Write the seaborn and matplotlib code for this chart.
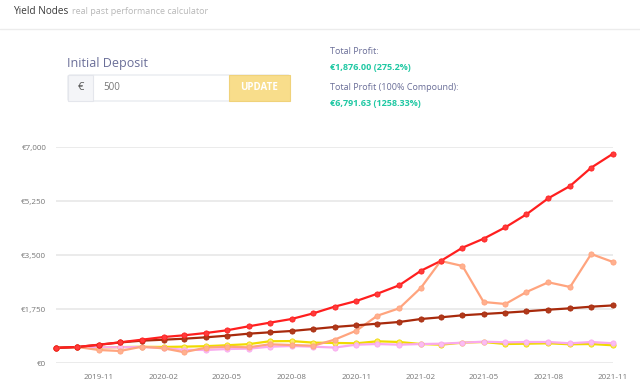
import matplotlib
matplotlib.use("Agg")
import matplotlib.pyplot as plt
import matplotlib.dates as mdates
from matplotlib.patches import Rectangle, FancyBboxPatch
from matplotlib.lines import Line2D
import pandas as pd
import seaborn as sns

# monthly snapshots
months = ['2019-09', '2019-10', '2019-11', '2019-12', '2020-01', '2020-02', '2020-03',
          '2020-04', '2020-05', '2020-06', '2020-07', '2020-08', '2020-09', '2020-10',
          '2020-11', '2020-12', '2021-01', '2021-02', '2021-03', '2021-04', '2021-05',
          '2021-06', '2021-07', '2021-08', '2021-09', '2021-10', '2021-11']

compound = [500, 528, 603, 680, 765, 852, 907, 982, 1069, 1199, 1316, 1436, 1620, 1835,
            2019, 2256, 2528, 3001, 3316, 3747, 4038, 4408, 4829, 5348, 5746, 6340, 6792]
simple = [500, 528, 600, 675, 733, 765, 797, 842, 895, 960, 1004, 1047, 1112, 1177,
          1231, 1283, 1339, 1436, 1490, 1556, 1598, 1640, 1685, 1737, 1782, 1835, 1876]
salmon = [500, 530, 431, 399, 538, 486, 360, 506, 538, 518, 616, 593, 570, 765,
          1057, 1543, 1782, 2450, 3316, 3154, 1987, 1922, 2311, 2625, 2473, 3542, 3283]
yellow = [500, 528, 510, 525, 535, 530, 540, 555, 585, 620, 715, 720, 670, 660,
          648, 713, 690, 625, 603, 668, 690, 625, 635, 648, 616, 625, 583]
pink = [500, 528, 518, 520, 530, 490, 440, 431, 463, 474, 538, 560, 538, 510,
        603, 625, 603, 625, 635, 668, 701, 680, 690, 690, 648, 690, 648]

# drawing order: later entries on top
series = {'yellow': yellow, 'pink': pink, 'salmon': salmon, 'simple': simple, 'compound': compound}
colors = {'pink': '#f9a9ee', 'yellow': '#f0da00', 'salmon': '#ffa47e',
          'simple': '#a82a0c', 'compound': '#ff1f1f'}
marker_colors = {'pink': '#fbbcf3', 'yellow': '#fbe96a', 'salmon': '#ffb08f',
                 'simple': '#b03a1c', 'compound': '#ff3b3b'}

dates = pd.to_datetime(months)
df = pd.concat([pd.DataFrame({'date': dates, 'value': v, 'series': k}) for k, v in series.items()])

sns.set_theme(style="white")
plt.rcParams['font.family'] = ['Open Sans', 'DejaVu Sans']

fig = plt.figure(figsize=(6.4, 3.88), dpi=100)

# ---- header -------------------------------------------------------------
fig.text(13 / 640, 1 - 11 / 388, "Yield Nodes", fontsize=7.2, color='#3a3a3a', va='center')
fig.text(72 / 640, 1 - 11 / 388, "real past performance calculator", fontsize=6.5,
         color='#b8b8b8', va='center')
fig.add_artist(Line2D([0, 1], [1 - 29 / 388, 1 - 29 / 388], color='#ececec', lw=1,
                      transform=fig.transFigure))

fig.text(67 / 640, 1 - 63 / 388, "Initial Deposit", fontsize=9, color='#6a6e98', va='center')
# input group
fig.add_artist(FancyBboxPatch((68 / 640, 1 - 101 / 388), 222 / 640, 26 / 388,
                              boxstyle="round,pad=0,rounding_size=0.004", transform=fig.transFigure,
                              facecolor='white', edgecolor='#e4e6ec', lw=0.8))
fig.add_artist(Rectangle((68 / 640, 1 - 101 / 388), 25 / 640, 26 / 388, transform=fig.transFigure,
                         facecolor='#f4f5f8', edgecolor='#e4e6ec', lw=0.8))
fig.text(80.5 / 640, 1 - 88 / 388, "€", fontsize=8, color='#555555', ha='center', va='center')
fig.text(103 / 640, 1 - 88 / 388, "500", fontsize=7, color='#777777', va='center')
fig.add_artist(Rectangle((229 / 640, 1 - 101 / 388), 61 / 640, 26 / 388, transform=fig.transFigure,
                         facecolor='#f8dd8b', edgecolor='#f0d27a', lw=0.8))
fig.text(259.5 / 640, 1 - 88 / 388, "UPDATE", fontsize=7, color='white', ha='center',
         va='center', fontweight='bold')

fig.text(330 / 640, 1 - 51 / 388, "Total Profit:", fontsize=6.5, color='#6a6e98', va='center')
fig.text(330 / 640, 1 - 67 / 388, "€1,876.00 (275.2%)", fontsize=6.5, color='#1fc8a3',
         va='center', fontweight='bold')
fig.text(330 / 640, 1 - 87 / 388, "Total Profit (100% Compound):", fontsize=6.5, color='#6a6e98',
         va='center')
fig.text(330 / 640, 1 - 103 / 388, "€6,791.63 (1258.33%)", fontsize=6.5, color='#1fc8a3',
         va='center', fontweight='bold')

# ---- chart --------------------------------------------------------------
ax = fig.add_axes([56 / 640, 1 - 363.3 / 388, 557 / 640, 216 / 388])
sns.lineplot(data=df, x='date', y='value', hue='series', hue_order=list(series),
             palette=colors, linewidth=1.6, legend=False, ax=ax, zorder=3)
for name, vals in series.items():
    ax.scatter(dates, vals, s=14, color=marker_colors[name], edgecolor=colors[name],
               linewidth=0.6, zorder=4, clip_on=False)

ax.set_ylim(0, 7000)
ax.set_xlim(dates[0], dates[-1])
ax.set_yticks([0, 1750, 3500, 5250, 7000])
ax.set_yticklabels(['€0', '€1,750', '€3,500', '€5,250', '€7,000'])
ax.xaxis.set_major_locator(mdates.MonthLocator(bymonth=[2, 5, 8, 11]))
ax.xaxis.set_major_formatter(mdates.DateFormatter('%Y-%m'))
ax.grid(axis='y', color='#ebebeb', linewidth=1.4, zorder=0)
ax.grid(axis='x', visible=False)
ax.set_axisbelow(True)
for s in ax.spines.values():
    s.set_visible(False)
ax.tick_params(axis='both', length=0, labelsize=5.8, colors='#777777')
ax.tick_params(axis='x', pad=8)
ax.tick_params(axis='y', pad=7)
ax.set_xlabel('')
ax.set_ylabel('')

fig.savefig('out.png', dpi=100)
